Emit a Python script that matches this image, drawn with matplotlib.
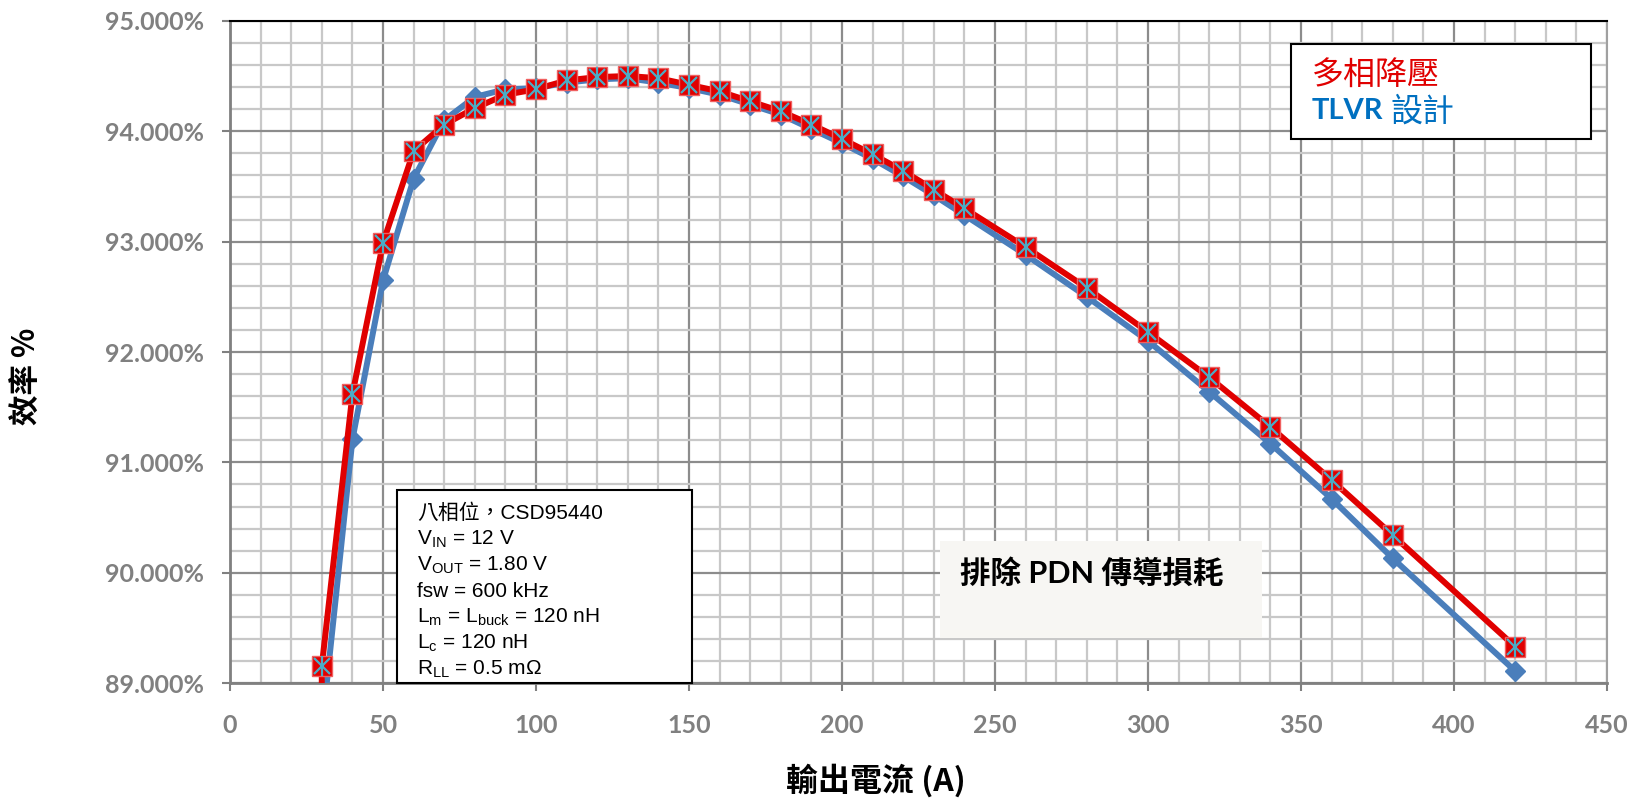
import matplotlib
matplotlib.use('Agg')
import matplotlib.pyplot as plt
from matplotlib.patches import Rectangle
from matplotlib.ticker import MultipleLocator, FuncFormatter

plt.rcParams['mathtext.fontset'] = 'custom'
plt.rcParams['mathtext.rm'] = 'Liberation Sans'
plt.rcParams['mathtext.it'] = 'Liberation Sans'

# data
current = [30, 40, 50, 60, 70, 80, 90, 100, 110, 120, 130, 140, 150, 160, 170,
           180, 190, 200, 210, 220, 230, 240, 260, 280, 300, 320, 340, 360, 380, 420]
eff_multiphase = [89.16, 91.62, 92.99, 93.82, 94.06, 94.21, 94.33, 94.38, 94.46, 94.49,
                  94.50, 94.48, 94.42, 94.36, 94.27, 94.18, 94.06, 93.93, 93.79, 93.64,
                  93.47, 93.30, 92.95, 92.58, 92.18, 91.77, 91.32, 90.84, 90.34, 89.33]
eff_tlvr = [88.58, 91.21, 92.65, 93.57, 94.10, 94.31, 94.38, 94.39, 94.44, 94.47,
            94.48, 94.44, 94.39, 94.33, 94.24, 94.15, 94.02, 93.89, 93.75, 93.59,
            93.42, 93.24, 92.88, 92.50, 92.10, 91.64, 91.17, 90.67, 90.13, 89.11]
# red line runs on below the first marker
red_x = [29.8] + current
red_y = [88.2] + eff_multiphase

series_names = ['多相降壓', 'TLVR 設計']
spec_lines = ['八相位，CSD95440',
              'V$_{\\mathrm{IN}}$ = 12 V',
              'V$_{\\mathrm{OUT}}$ = 1.80 V',
              'fsw = 600 kHz',
              'L$_{\\mathrm{m}}$ = L$_{\\mathrm{buck}}$ = 120 nH',
              'L$_{\\mathrm{c}}$ = 120 nH',
              'R$_{\\mathrm{LL}}$ = 0.5 m\u03a9']
note_text = '排除 PDN 傳導損耗'

RED = '#E00000'
BLUE = '#4A7EBB'
CYAN = '#4BACC6'
GRAY = '#808080'
tick_font = ['Lato', 'Noto Sans CJK TC']
cjk_font = ['Noto Sans CJK TC', 'DejaVu Sans']

fig = plt.figure(figsize=(16.41, 8.0), dpi=100)
ax = fig.add_axes([0.1402, 0.146, 0.8391, 0.828])

ax.set_xlim(0, 450)
ax.set_ylim(89, 95)
ax.xaxis.set_major_locator(MultipleLocator(50))
ax.xaxis.set_minor_locator(MultipleLocator(10))
ax.yaxis.set_major_locator(MultipleLocator(1))
ax.yaxis.set_minor_locator(MultipleLocator(0.2))
ax.grid(which='minor', color='#C8C8C8', lw=1.6, zorder=0)
ax.grid(which='major', color='#8C8C8C', lw=1.6, zorder=0)
ax.set_axisbelow(True)
ax.yaxis.set_major_formatter(FuncFormatter(lambda v, p: '%.3f%%' % v))

ax.tick_params(which='major', length=6, width=1.5, color=GRAY, direction='out')
ax.tick_params(axis='y', pad=13)
ax.tick_params(axis='x', pad=16)
ax.tick_params(which='minor', length=0)
for lab in ax.get_xticklabels() + ax.get_yticklabels():
    lab.set_family(tick_font)
    lab.set_fontweight('bold')
    lab.set_fontsize(18)
    lab.set_color(GRAY)
for s in ['left', 'bottom', 'right']:
    ax.spines[s].set_color(GRAY)
    ax.spines[s].set_linewidth(2)
ax.spines['right'].set_color('#A0A0A0')
ax.spines['right'].set_linewidth(1.5)
ax.spines['top'].set_color('black')
ax.spines['top'].set_linewidth(1.5)

# blue series under the red one
ax.plot(current, eff_tlvr, color=BLUE, lw=4.3, marker='D', ms=10,
        mfc=BLUE, mec=BLUE, zorder=3)
ax.plot(red_x, red_y, color=RED, lw=4.3, zorder=4)
ax.plot(current, eff_multiphase, ls='none', marker='s', ms=15,
        mfc=RED, mec='#F06060', mew=1, zorder=5)
ax.plot(current, eff_multiphase, ls='none', marker='x', ms=11,
        mec=CYAN, mew=1.6, zorder=6)
ax.plot(current, eff_multiphase, ls='none', marker='|', ms=15,
        mec=CYAN, mew=1.6, zorder=6)

# legend box
ax.add_patch(Rectangle((346.7, 93.93), 98.1, 0.86, fc='white', ec='black',
                       lw=1.5, zorder=7))
ax.text(353.6, 94.51, series_names[0], color=RED, fontsize=23,
        family=cjk_font, va='center', ha='left', zorder=8)
t_tlvr = ax.text(353.3, 94.18, series_names[1].split(' ')[0], color='#0070C0',
                 fontsize=21, fontweight='bold', family=tick_font,
                 va='center', ha='left', zorder=8)
ax.annotate(series_names[1].split(' ')[1], xy=(1, 0.5), xycoords=t_tlvr,
            xytext=(6, 0), textcoords='offset points', color='#0070C0',
            fontsize=23, family=cjk_font, va='center', ha='left', zorder=8)

# spec box
ax.add_patch(Rectangle((54.6, 89.0), 96.4, 1.75, fc='white', ec='black',
                       lw=1.5, zorder=7, clip_on=False))
for i, line in enumerate(spec_lines):
    ax.text(61.1, 90.54 - i * 0.236, line, fontsize=15, color='black',
            family=['Liberation Sans', 'Noto Sans CJK TC'],
            va='center', ha='left', zorder=8)

# note box
ax.add_patch(Rectangle((232.0, 89.41), 105.3, 0.88, fc='#F7F6F3', ec='none',
                       zorder=7))
ax.text(238.6, 90.0, note_text, fontsize=22, fontweight='bold', color='black',
        family=['Lato', 'Noto Sans CJK TC'], va='center', ha='left', zorder=8)

fig.text(0.0165, 0.529, '效率 %', rotation=90, fontsize=22, fontweight='bold',
         family=cjk_font, ha='center', va='center')
fig.text(0.534, 0.024, '輸出電流 (A)', fontsize=23, fontweight='bold',
         family=cjk_font, ha='center', va='center')

fig.savefig('out.png', dpi=100)
